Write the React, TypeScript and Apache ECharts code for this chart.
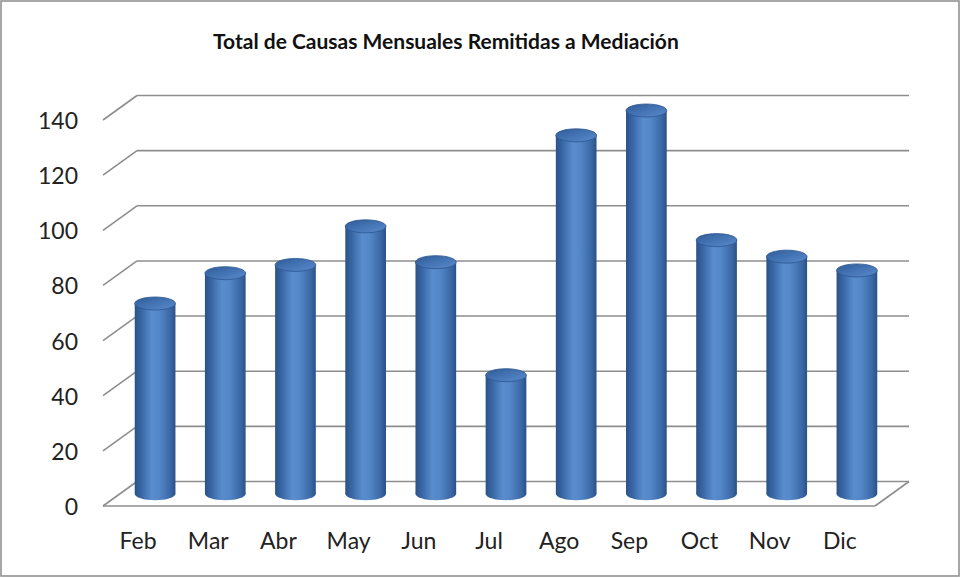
import React, { useEffect, useRef } from "react";
import * as echarts from "echarts";

const categories = ["Feb", "Mar", "Abr", "May", "Jun", "Jul", "Ago", "Sep", "Oct", "Nov", "Dic"];
const values = [69, 80, 83, 97, 84, 43, 130, 139, 92, 86, 81];
const yTicks = [0, 20, 40, 60, 80, 100, 120, 140];
const titleText = "Total de Causas Mensuales Remitidas a Mediación";

const DX = 34;
const DY = -24.5;
const FONT = "Lato, 'Open Sans', sans-serif";

export default function App() {
  const ref = useRef<HTMLDivElement>(null);
  useEffect(() => {
    if (!ref.current) return;
    const chart = echarts.init(ref.current, undefined, { renderer: "svg" });
    const gridColor = "#8e8e8e";
    const bodyGrad = () =>
      new echarts.graphic.LinearGradient(0, 0, 1, 0, [
        { offset: 0, color: "#2a5288" },
        { offset: 0.18, color: "#3a69a8" },
        { offset: 0.42, color: "#5a8dcd" },
        { offset: 0.6, color: "#5487c8" },
        { offset: 0.88, color: "#3a67a4" },
        { offset: 1, color: "#2b5186" },
      ]);
    const topGrad = () =>
      new echarts.graphic.LinearGradient(0, 0, 1, 1, [
        { offset: 0, color: "#2f5b96" },
        { offset: 0.5, color: "#4474b4" },
        { offset: 1, color: "#5a8acb" },
      ]);
    const option: any = {
      animation: false,
      backgroundColor: "#ffffff",
      title: {
        text: titleText,
        left: 208,
        top: 25,
        textStyle: { fontFamily: FONT, fontWeight: "bold", fontSize: 21, color: "#111" },
      },
      graphic: [
        {
          type: "rect",
          shape: { x: 1, y: 1, width: 958, height: 575 },
          style: { fill: "none", stroke: "#8a8a8a", lineWidth: 1.5 },
          silent: true,
        },
      ],
      grid: { left: 103, right: 87, top: 120, bottom: 72 },
      xAxis: {
        type: "category",
        data: categories,
        boundaryGap: true,
        axisLine: { show: false },
        axisTick: { show: false },
        splitLine: { show: false },
        axisLabel: { margin: 22, fontFamily: FONT, fontSize: 23, color: "#222" },
      },
      yAxis: {
        type: "value",
        min: 0,
        max: 140,
        interval: 20,
        axisLine: { show: false },
        axisTick: { show: false },
        splitLine: { show: false },
        axisLabel: { margin: 25, fontFamily: FONT, fontSize: 23, color: "#222" },
      },
      series: [
        {
          type: "custom",
          name: "grid",
          clip: false,
          silent: true,
          z: 1,
          data: yTicks.map((t) => [0, t]),
          encode: { x: 0, y: 1 },
          renderItem: (params: any, api: any) => {
            const v = api.value(1);
            const p0 = api.coord([0, v]);
            const p1 = api.coord([categories.length - 1, v]);
            const band = api.size([1, 0])[0];
            const xl = p0[0] - band / 2;
            const xr = p1[0] + band / 2;
            const y = p0[1];
            const ls = { stroke: gridColor, lineWidth: 1.6, fill: "none" };
            const children: any[] = [
              { type: "line", shape: { x1: xl, y1: y, x2: xl + DX, y2: y + DY }, style: ls },
              { type: "line", shape: { x1: xl + DX, y1: y + DY, x2: xr + DX, y2: y + DY }, style: ls },
            ];
            if (v === 0) {
              children.push({ type: "line", shape: { x1: xl, y1: y, x2: xr, y2: y }, style: ls });
              children.push({ type: "line", shape: { x1: xr, y1: y, x2: xr + DX, y2: y + DY }, style: ls });
            }
            return { type: "group", children };
          },
        },
        {
          type: "custom",
          name: "Causas",
          clip: false,
          z: 2,
          data: values.map((v, i) => [i, v]),
          encode: { x: 0, y: 1 },
          renderItem: (params: any, api: any) => {
            const i = api.value(0);
            const v = api.value(1);
            const top = api.coord([i, v]);
            const base = api.coord([i, 0]);
            const band = api.size([1, 0])[0];
            const w = band * 0.58;
            const cx = top[0] + DX / 2;
            const ty = top[1] + DY / 2;
            const by = base[1] + DY / 2;
            const ry = 6.5;
            return {
              type: "group",
              children: [
                { type: "ellipse", shape: { cx, cy: by, rx: w / 2, ry }, style: { fill: bodyGrad() } },
                { type: "rect", shape: { x: cx - w / 2, y: ty, width: w, height: by - ty }, style: { fill: bodyGrad() } },
                {
                  type: "ellipse",
                  shape: { cx, cy: ty, rx: w / 2, ry },
                  style: { fill: topGrad(), stroke: "#2c5690", lineWidth: 0.8 },
                },
              ],
            };
          },
        },
      ],
    };
    chart.setOption(option);
    return () => chart.dispose();
  }, []);
  return (
    <div
      ref={ref}
      style={{ position: "absolute", left: 0, top: 0, width: 962, height: 578 }}
    />
  );
}
